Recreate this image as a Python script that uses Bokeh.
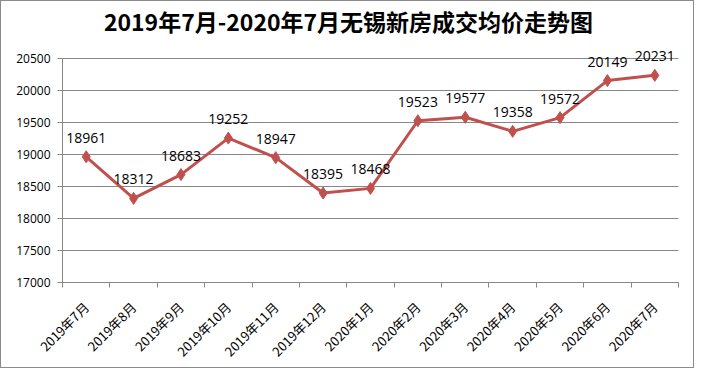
import math
from bokeh.plotting import figure
from bokeh.models import FixedTicker, ColumnDataSource, Range1d, Label, LabelSet
from bokeh.core.properties import value
from bokeh.embed import file_html
from bokeh.resources import INLINE

months = ["2019年7月", "2019年8月", "2019年9月", "2019年10月", "2019年11月", "2019年12月",
          "2020年1月", "2020年2月", "2020年3月", "2020年4月", "2020年5月", "2020年6月", "2020年7月"]
prices = [18961, 18312, 18683, 19252, 18947, 18395, 18468, 19523, 19577, 19358, 19572, 20149, 20231]
y_ticks = [17000, 17500, 18000, 18500, 19000, 19500, 20000, 20500]
title_text = "2019年7月-2020年7月无锡新房成交均价走势图"

x = list(range(len(months)))
src = ColumnDataSource(dict(x=x, y=prices, label=[str(v) for v in prices]))

W, H = 694, 368
LEFT, RIGHT, BOTTOM = 61, 17, 85
PLOT_TOP = 57  # pixel row of the top tick
# the (invisible) frame reaches the top of the canvas so texts above the last tick are not clipped
step = y_ticks[1] - y_ticks[0]
px_per_step = (H - BOTTOM - PLOT_TOP) / (len(y_ticks) - 1)
y_end = y_ticks[-1] + step * PLOT_TOP / px_per_step

p = figure(width=W, height=H, output_backend="svg", toolbar_location=None,
           x_range=Range1d(-0.5, len(months) - 0.5),
           y_range=Range1d(y_ticks[0], y_end),
           min_border_left=LEFT, min_border_right=RIGHT, min_border_top=0,
           min_border_bottom=BOTTOM)
p.styles = {"border": "1px solid #8a8a8a", "box-sizing": "border-box"}
p.outline_line_color = None
p.background_fill_color = "white"
p.border_fill_color = "white"

frame_h = H - BOTTOM
title = Label(x=W / 2 - LEFT, y=frame_h - 21, x_units="screen", y_units="screen",
              text=title_text, text_align="center", text_baseline="middle",
              text_font="Noto Sans CJK SC", text_font_size="23px", text_font_style="bold",
              text_color="black")
p.add_layout(title)

p.xgrid.grid_line_color = None
p.ygrid.grid_line_color = "#878787"
p.ygrid.grid_line_width = 1

xa = p.xaxis[0]
xa.ticker = FixedTicker(ticks=x, minor_ticks=[i - 0.5 for i in range(len(months) + 1)])
xa.major_label_overrides = {i: m for i, m in enumerate(months)}
xa.major_label_orientation = math.pi / 4
xa.major_tick_out = 0
xa.major_tick_in = 0
xa.minor_tick_out = 5
xa.minor_tick_in = 0
xa.minor_tick_line_color = "#878787"
xa.axis_line_color = "#878787"
xa.major_label_text_font = "Noto Sans CJK SC"
xa.major_label_text_font_size = "13px"
xa.major_label_text_color = "black"
xa.major_label_standoff = 17

ya = p.yaxis[0]
ya.ticker = FixedTicker(ticks=y_ticks, minor_ticks=[])
ya.bounds = (y_ticks[0], y_ticks[-1])
ya.major_tick_out = 5
ya.major_tick_in = 0
ya.major_tick_line_color = "#878787"
ya.axis_line_color = "#878787"
ya.major_label_text_font = "Open Sans"
ya.major_label_text_font_size = "12px"
ya.major_label_text_color = "black"
ya.major_label_standoff = 7

p.line("x", "y", source=src, line_color="#C0504D", line_width=3)
p.scatter("x", "y", source=src, marker="diamond", size=12,
          fill_color="#C0504D", line_color="#C0504D")
labels = LabelSet(x="x", y="y", text="label", source=src, text_align="center",
                  text_baseline="alphabetic", y_offset=14, text_font=value("Open Sans"),
                  text_font_size=value("14px"), text_color=value("black"))
p.add_layout(labels)

open("out.html", "w").write(file_html(p, INLINE))
